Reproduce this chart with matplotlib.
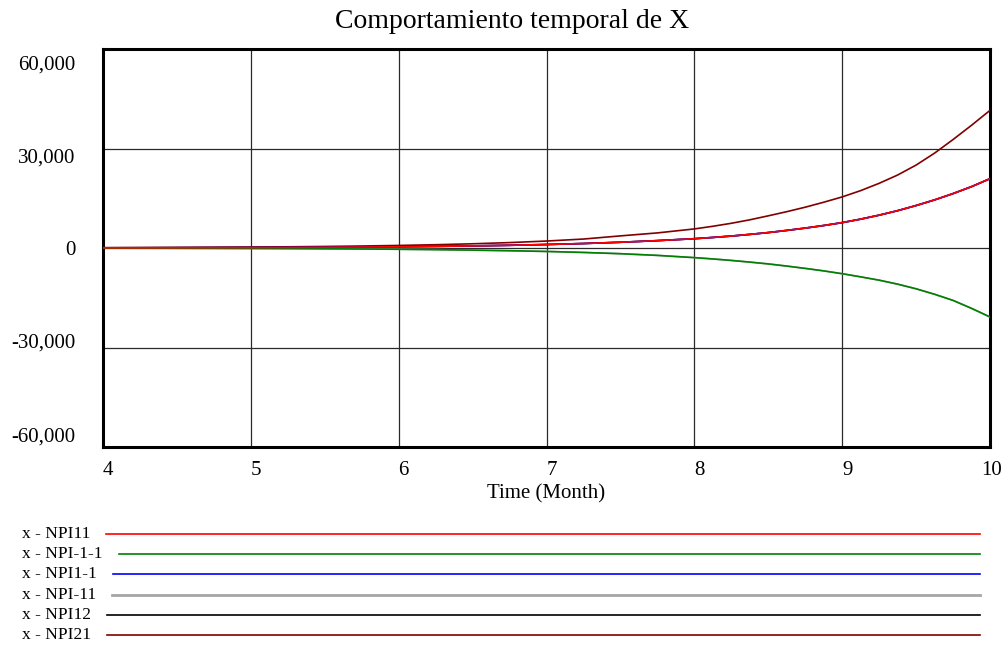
import matplotlib.pyplot as plt
from matplotlib.transforms import ScaledTranslation

plt.rcParams["font.family"] = ["Liberation Serif", "DejaVu Serif"]

time = [4.0, 4.25, 4.5, 4.75, 5.0, 5.25, 5.5, 5.75, 6.0, 6.25, 6.5, 6.75, 7.0,
        7.25, 7.5, 7.75, 8.0, 8.125, 8.25, 8.375, 8.5, 8.625, 8.75, 8.875, 9.0,
        9.125, 9.25, 9.375, 9.5, 9.625, 9.75, 9.875, 10.0]

x_npi11 = [50, 65, 85, 110, 140, 180, 235, 300, 385, 495, 635, 815, 1050,
           1350, 1730, 2220, 2800, 3180, 3600, 4100, 4650, 5300, 6000, 6780, 7650,
           8700, 9900, 11250, 12800, 14500, 16400, 18500, 20900]
x_npi_1_1 = [-50, -65, -85, -110, -140, -180, -235, -300, -385, -495, -640, -820, -1040,
             -1340, -1720, -2230, -2900, -3300, -3750, -4250, -4800, -5450, -6150, -6900, -7750,
             -8700, -9700, -10900, -12300, -13950, -15800, -18200, -20800]
x_npi1_1 = [50, 65, 85, 110, 140, 180, 235, 300, 385, 495, 635, 815, 1050,
            1350, 1730, 2220, 2800, 3180, 3600, 4100, 4650, 5300, 6000, 6780, 7650,
            8700, 9900, 11250, 12800, 14500, 16400, 18500, 20900]
x_npi_11 = [-50, -65, -85, -110, -140, -180, -235, -300, -385, -495, -640, -820, -1040,
            -1340, -1720, -2230, -2900, -3300, -3750, -4250, -4800, -5450, -6150, -6900, -7750,
            -8700, -9700, -10900, -12300, -13950, -15800, -18200, -20800]
x_npi12 = [50, 65, 85, 110, 140, 180, 235, 300, 385, 495, 635, 815, 1050,
           1350, 1730, 2220, 2800, 3180, 3600, 4100, 4650, 5300, 6000, 6780, 7650,
           8700, 9900, 11250, 12800, 14500, 16400, 18500, 20900]
x_npi21 = [105, 135, 170, 220, 280, 360, 465, 600, 770, 990, 1270, 1630, 2100,
           2700, 3650, 4550, 5750, 6550, 7450, 8500, 9700, 10950, 12300, 13800, 15400,
           17300, 19500, 22000, 25000, 28600, 32700, 37000, 41500]

series_names = ["x - NPI11", "x - NPI-1-1", "x - NPI1-1", "x - NPI-11", "x - NPI12", "x - NPI21"]
series_values = [x_npi11, x_npi_1_1, x_npi1_1, x_npi_11, x_npi12, x_npi21]
series_colors = ["#ff0000", "#008000", "#0000ff", "#a6a6a6", "#000000", "#800000"]

y_ticks = [-60000, -30000, 0, 30000, 60000]
y_tick_labels = ["-60,000", "-30,000", "0", "30,000", "60,000"]
x_ticks = [4, 5, 6, 7, 8, 9, 10]

W, H = 1005, 646
fig = plt.figure(figsize=(W / 100, H / 100), dpi=100)
ax = fig.add_axes([103 / W, 1 - 447 / H, (990 - 103) / W, (447 - 49) / H])

# first series ends up on top
n = len(series_values)
for i, (vals, col) in enumerate(zip(series_values, series_colors)):
    ax.plot(time, vals, color=col, lw=1.2, zorder=3 + n - i)

ax.set_xlim(4, 10)
ax.set_ylim(-60000, 60000)
ax.set_xticks(x_ticks)
ax.set_xticklabels([str(t) for t in x_ticks], fontsize=15)
ax.set_yticks(y_ticks)
ax.set_yticklabels(y_tick_labels, fontsize=15)
ax.tick_params(length=0)
ax.tick_params(axis="x", pad=10)
ax.tick_params(axis="y", pad=20)
ax.grid(True, color="#2a2a2a", lw=0.9)
ax.set_axisbelow(True)
for sp in ax.spines.values():
    sp.set_linewidth(2.2)
    sp.set_color("black")

# labels sit a little right of their gridlines
for lab in ax.get_xticklabels():
    dx = 2 if lab.get_text() == "10" else 5
    lab.set_transform(lab.get_transform() + ScaledTranslation(dx / 100, 0, fig.dpi_scale_trans))
# outer y labels pulled in towards the middle
for lab, dy in zip(ax.get_yticklabels(), [12, 6.5, 0, -7.5, -14]):
    lab.set_transform(lab.get_transform() + ScaledTranslation(0, dy / 100, fig.dpi_scale_trans))

ax.set_xlabel("Time (Month)", fontsize=15, labelpad=3)
fig.text(512 / W, 1 - 21 / H, "Comportamiento temporal de X", ha="center", va="center", fontsize=20)

# legend rows below the plot
renderer = fig.canvas.get_renderer()
for i, (name, col) in enumerate(zip(series_names, series_colors)):
    y = 1 - (534 + i * 20.2) / H
    t = fig.text(22 / W, y, name, ha="left", va="center", fontsize=12.5)
    bb = t.get_window_extent(renderer)
    lw = 2.0 if col == "#a6a6a6" else 1.2
    fig.add_artist(plt.Line2D([(bb.x1 + 16) / W, 980 / W], [y, y], color=col, lw=lw,
                              transform=fig.transFigure))

fig.savefig("out.png", dpi=100)
